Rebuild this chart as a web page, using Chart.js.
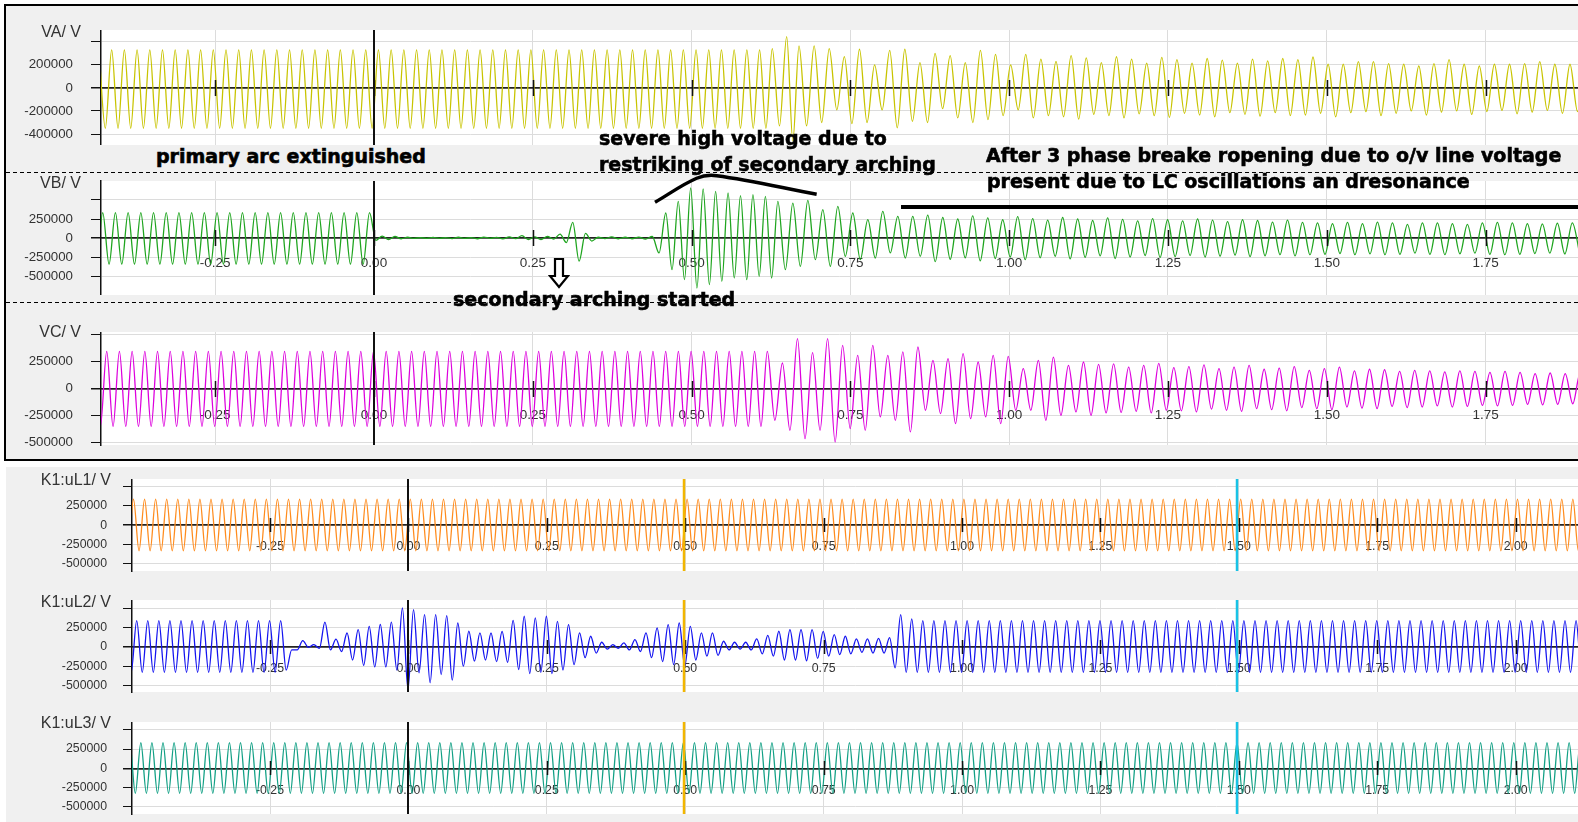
<!DOCTYPE html>
<html lang="en">
<head>
<meta charset="UTF-8">
<title>Phase voltages - secondary arc and reclosing</title>
<script src="https://cdn.jsdelivr.net/npm/chart.js"></script>
<style>
  html, body { margin: 0; padding: 0; background: #fff; }
  body { position: relative; width: 1578px; height: 822px; overflow: hidden; font-family: 'Liberation Sans', Arial, sans-serif; }
  #topBox { position: absolute; left: 4px; top: 4px; width: 1600px; height: 457px; box-sizing: border-box; border: 2px solid #000; background: #f0f0f0; }
  #botBox { position: absolute; left: 6px; top: 467px; width: 1572px; height: 355px; background: #f0f0f0; }
  canvas { position: absolute; left: 0; z-index: 1; }
  .ttl { position: absolute; left: 0; text-align: right; font-size: 16px; line-height: 16px; color: #333; white-space: nowrap; z-index: 2; }
  .dash { position: absolute; left: 6px; width: 1572px; height: 1px; z-index: 3;
          background: repeating-linear-gradient(90deg, #000 0 4px, transparent 4px 7px); }
  .note { position: absolute; font-family: 'DejaVu Sans', sans-serif; font-weight: bold; font-size: 19px; line-height: 19px; color: #000;
          -webkit-text-stroke: 0.6px #000; white-space: nowrap; z-index: 5; }
</style>
</head>
<body>
<div id="topBox"></div>
<div id="botBox"></div>
<div class="dash" style="top:172px"></div>
<div class="dash" style="top:302px"></div>

<div class="ttl" style="top:24px;width:81px">VA/ V</div>
<div class="ttl" style="top:175px;width:81px">VB/ V</div>
<div class="ttl" style="top:324px;width:81px">VC/ V</div>
<div class="ttl" style="top:472px;width:111px">K1:uL1/ V</div>
<div class="ttl" style="top:594px;width:111px">K1:uL2/ V</div>
<div class="ttl" style="top:715px;width:111px">K1:uL3/ V</div>

<div class="note" style="left:156px;top:147px">primary arc extinguished</div>
<div class="note" style="left:599px;top:129px">severe high voltage due to</div>
<div class="note" style="left:599px;top:155px">restriking of secondary arching</div>
<div class="note" style="left:986px;top:146px">After 3 phase breake ropening due to o/v line voltage</div>
<div class="note" style="left:987px;top:172px">present due to LC oscillations an dresonance</div>
<div class="note" style="left:453px;top:290px">secondary arching started</div>
<svg style="position:absolute;left:548px;top:256px;z-index:5" width="22" height="34">
  <path d="M7 3 H15 V20 H20 L11 31 L2 20 H7 Z" fill="#fff" stroke="#000" stroke-width="2.2"/>
</svg>

<script>
// ---- data (kV peaks per cycle, periods in ms, times in s) ----
const rep = (n, v) => Array(n).fill(v);

const topTicksX = [-0.25, 0, 0.25, 0.5, 0.75, 1, 1.25, 1.5, 1.75];
const botTicksX = [-0.25, 0, 0.25, 0.5, 0.75, 1, 1.25, 1.5, 1.75, 2];
const vaTicksY = [-400000, -200000, 0, 200000, 400000];
const vTicksY = [-500000, -250000, 0, 250000, 500000];

// VA
const vaT0 = -0.4330;
const vaPeriod = [[53, 20], [1, 22.7], [1, 19.4], [53, 23.8]];
const vaPeak = [...rep(53, 330), 340, 445,
  365, 365, 340, 271, 335, 200, 325, 335, 220, 300, 280, 220, 325, 290, 200,
  290, 250, 230, 280, 260, 220, 270, 250, 215, 265, 245, 215, 255, 240, 215, 250, 235, 255,
  245, 268, 205, 205, 228, 228, 210, 205, 190, 210, 245, 205, 190, 205, 205, 210, 228, 205, 205, 220];
const vaTrough = [...rep(53, 350), 330, 460,
  330, 300, 190, 310, 300, 190, 346, 290, 300, 180, 260, 300, 275, 240, 190,
  260, 240, 250, 270, 230, 240, 260, 225, 240, 255, 220, 235, 250, 215, 230, 245, 215, 240, 235, 220,
  250, 215, 205, 240, 220, 200, 235, 210, 200, 230, 205, 195, 225, 210, 195, 220, 205, 200];

// VB
const vbT0 = -0.4471;
const vbPeriod = [[40, 20], [5, 21.3], [9, 19.6], [54, 23.6]];
const vbPeak = [...rep(22, 335), 335, 25, 20, 10,
  5, 8, 4, 10, 6, 12, 8, 15, 30, 15, 20, 50, 205, 60,
  10, 15, 10, 12, 20,
  329, 482, 658, 645, 614, 592, 557, 570, 548,
  482, 460, 496, 373, 417, 329, 241, 351, 285, 285,
  300, 270, 250, 290, 265, 240, 280, 255, 235, 270, 250, 230, 265, 245, 225, 255, 240, 225, 250, 235,
  215, 240, 230, 210, 235, 206, 200, 190, 206, 190, 210, 200, 180, 200, 200, 190, 180, 200, 206, 200,
  190, 185, 195, 200];
const vbTrough = [...rep(22, 345), 30, 20, 10, 5,
  5, 4, 8, 6, 10, 5, 12, 8, 20, 20, 15, 60, 305, 40,
  8, 10, 10, 15, 197,
  417, 548, 658, 614, 570, 526, 548, 504, 526,
  417, 373, 285, 373, 241, 285, 263, 197, 263, 240,
  310, 280, 260, 300, 270, 250, 285, 260, 240, 275, 255, 235, 270, 250, 230, 255, 245, 230, 250, 240,
  225, 245, 235, 220, 235, 220, 215, 205, 220, 210, 220, 215, 200, 215, 220, 210, 200, 215, 220, 215,
  205, 200, 210, 215];
const vbArcT = [0.4424, 0.5080, 0.5395, 0.6969];
const vbArcV = [470000, 786000, 820000, 575000];
const vbBarT = [0.8297, 1.95];
const vbBarV = [408000, 408000];

// VC
const vcT0 = -0.4408;
const vcPeriod = [[53, 20], [1, 23.8], [54, 23.7]];
const vcPeak = [...rep(53, 345), 345,
  238, 463, 333, 463, 401, 309, 401, 309, 340, 386, 262, 278, 324, 247, 309, 299, 185, 262, 293, 216, 247, 225,
  230, 200, 215, 235, 195, 205, 220, 185, 200, 215, 180, 190, 205, 170, 185, 200,
  165, 180, 175, 160, 170, 165, 155, 165, 160, 150, 160, 150, 140, 145, 140, 150];
const vcTrough = [...rep(53, 350), 293,
  386, 463, 386, 494, 370, 386, 262, 293, 401, 200, 231, 324, 278, 262, 324, 200, 200, 293, 247, 216, 247, 225,
  220, 210, 225, 200, 205, 215, 190, 200, 210, 185, 195, 205, 175, 185, 195, 170,
  180, 185, 165, 175, 170, 160, 170, 165, 155, 160, 155, 145, 150, 145, 140, 150];

// K1:uL1
const u1T0 = -0.5166;
const u1Period = [[133, 20]];
const u1Peak = rep(133, 338);
const u1Trough = rep(133, 332);

// K1:uL2
const u2T0 = -0.5108;
const u2Period = [[133, 20]];
const u2Peak = [...rep(15, 340),
  -40, 80, 30, 320, 100, 180, 225, 265, 290, 320,
  505, 483, 418, 418, 405, 310, 203, 181, 180, 200,
  345, 397, 375, 397, 332, 289, 181, 138, 60, 30,
  52, 95, 181, 246, 289, 310, 267, 181, 181, 73,
  60, 60, 103, 150, 203, 224, 224, 224, 200, 160,
  138, 103, 103, 110, 120, 418, 362,
  ...rep(61, 340)];
const u2Trough = [...rep(14, 330), 300,
  40, 5, 20, 40, 60, 170, 240, 260, 260, 300,
  555, 336, 465, 358, 431, 250, 185, 170, 190, 200,
  293, 345, 330, 345, 300, 230, 140, 80, 30, 20,
  40, 60, 140, 190, 230, 250, 170, 120, 110, 40,
  30, 40, 90, 120, 170, 170, 180, 150, 120, 100,
  90, 70, 80, 80, 271, 330, 330,
  ...rep(61, 330)];

// K1:uL3
const u3T0 = -0.5233;
const u3Period = [[133, 20]];
const u3Peak = rep(133, 332);
const u3Trough = rep(133, 325);

// ---- build ----
function wave(t0, periods, peak, trough) {
  const pts = [];
  let t = t0, i = 0;
  periods.forEach(([n, ms]) => {
    for (let j = 0; j < n; j++, i++) {
      const p = ms / 1000;
      pts.push({ x: t, y: peak[i] * 1000 });
      pts.push({ x: t + p / 2, y: -trough[i] * 1000 });
      t += p;
    }
  });
  return pts;
}
const pairs = (ts, vs) => ts.map((t, i) => ({ x: t, y: vs[i] }));

Chart.defaults.font.family = "'Liberation Sans', Arial, sans-serif";

const marks = {
  id: 'marks',
  beforeDraw(chart) {
    const { ctx, chartArea: a } = chart;
    ctx.save();
    ctx.fillStyle = '#fff';
    ctx.fillRect(a.left, a.top, a.right - a.left, a.bottom - a.top);
    ctx.restore();
  },
  afterDatasetsDraw(chart, args, opts) {
    const { ctx, chartArea: a, scales: { x, y } } = chart;
    const y0 = Math.round(y.getPixelForValue(0));
    ctx.save();
    ctx.strokeStyle = '#111';
    ctx.lineWidth = 1.5;
    x.ticks.forEach(tk => {
      const px = Math.round(x.getPixelForValue(tk.value)) + 0.5;
      ctx.beginPath(); ctx.moveTo(px, y0 - opts.tick); ctx.lineTo(px, y0 + opts.tick); ctx.stroke();
    });
    opts.cursors.forEach(c => {
      const px = Math.round(x.getPixelForValue(c.t));
      ctx.strokeStyle = c.color; ctx.lineWidth = c.w;
      ctx.beginPath(); ctx.moveTo(px, a.top); ctx.lineTo(px, a.bottom); ctx.stroke();
    });
    ctx.restore();
  }
};

function makeChart(p) {
  const cv = document.createElement('canvas');
  const padT = p.padT || 0, padB = p.padB || 0;
  const h = p.bottom - p.top + padT + padB;
  cv.width = 1578; cv.height = h;
  cv.style.top = (p.top - padT) + 'px';
  cv.style.width = '1578px'; cv.style.height = h + 'px';
  document.body.appendChild(cv);
  const hidden = p.yTicks[p.yTicks.length - 1];
  const isZero = c => c.tick && c.tick.value === 0;
  return new Chart(cv, {
    type: 'line',
    data: {
      datasets: [{
        data: p.data, borderColor: p.color, borderWidth: 1.3, pointRadius: 0,
        fill: false, cubicInterpolationMode: 'monotone'
      }].concat(p.extra || [])
    },
    options: {
      responsive: false, animation: false, devicePixelRatio: 1, events: [],
      layout: { padding: { top: padT, bottom: padB, left: 0, right: 0 } },
      plugins: { legend: { display: false }, tooltip: { enabled: false }, marks: { cursors: p.cursors, tick: p.tick } },
      scales: {
        x: {
          type: 'linear', min: p.xMin, max: p.xMax, position: { y: 0 },
          afterBuildTicks: s => { s.ticks = p.xTicks.map(v => ({ value: v })); },
          grid: { color: '#dcdcdc', drawTicks: false },
          border: { color: '#222', width: 1.5 },
          ticks: { display: p.xLabels, padding: p.xPad, color: '#333', font: { size: p.xFont },
                   autoSkip: false, maxRotation: 0, callback: v => v.toFixed(2) }
        },
        y: {
          type: 'linear', min: p.yMin, max: p.yMax,
          afterBuildTicks: s => { s.ticks = p.yTicks.map(v => ({ value: v })); },
          afterFit: s => { s.width = p.left; s.paddingTop = 0; s.paddingBottom = 0; },
          grid: { color: c => isZero(c) ? '#222' : '#dcdcdc', lineWidth: c => isZero(c) ? 1.5 : 1,
                  tickColor: '#111', tickLength: p.tickLen },
          border: { color: '#111', width: 1.5 },
          ticks: { padding: p.yPad, color: '#333', font: { size: p.yFont }, autoSkip: false,
                   callback: v => v === hidden ? '' : String(v) }
        }
      }
    },
    plugins: [marks]
  });
}

const topX = { xMin: -0.4298, xMax: 1.8955, xTicks: topTicksX, left: 101, tickLen: 10, yPad: 18, yFont: 13.3, xFont: 13.5, tick: 8,
               cursors: [{ t: 0, color: '#111', w: 2 }] };
const botX = { xMin: -0.4993, xMax: 2.1127, xTicks: botTicksX, left: 132, tickLen: 9, yPad: 16, yFont: 12.3, xFont: 12.3, tick: 7,
               xLabels: true, xPad: 14.5, yTicks: vTicksY,
               cursors: [{ t: 0, color: '#111', w: 2 }, { t: 0.498, color: '#f2b600', w: 2.5 }, { t: 1.497, color: '#19c3e6', w: 2.5 }] };

makeChart(Object.assign({}, topX, {
  top: 30, bottom: 145, yMin: -495000, yMax: 502000, yTicks: vaTicksY, xLabels: false, xPad: 17,
  color: '#c8c400', data: wave(vaT0, vaPeriod, vaPeak, vaTrough)
}));
makeChart(Object.assign({}, topX, {
  top: 181, bottom: 295, padT: 9, yMin: -750000, yMax: 750000, yTicks: vTicksY, xLabels: true, xPad: 17,
  color: '#1fa51f', data: wave(vbT0, vbPeriod, vbPeak, vbTrough),
  extra: [
    { data: pairs(vbArcT, vbArcV), borderColor: '#000', borderWidth: 3.5, pointRadius: 0, tension: 0.35,
      cubicInterpolationMode: 'default', capBezierPoints: false, clip: false, order: -1 },
    { data: pairs(vbBarT, vbBarV), borderColor: '#000', borderWidth: 4, pointRadius: 0, order: -1 }
  ]
}));
makeChart(Object.assign({}, topX, {
  top: 332, bottom: 445, padB: 8, yMin: -522000, yMax: 525000, yTicks: vTicksY, xLabels: true, xPad: 19,
  color: '#dd00dd', data: wave(vcT0, vcPeriod, vcPeak, vcTrough)
}));
makeChart(Object.assign({}, botX, {
  top: 479, bottom: 571, padB: 4, yMin: -595000, yMax: 600000,
  color: '#ff8c1e', data: wave(u1T0, u1Period, u1Peak, u1Trough)
}));
makeChart(Object.assign({}, botX, {
  top: 600, bottom: 692, padB: 4, yMin: -585000, yMax: 608000,
  color: '#1414f0', data: wave(u2T0, u2Period, u2Peak, u2Trough)
}));
makeChart(Object.assign({}, botX, {
  top: 722, bottom: 814, padB: 4, yMin: -592000, yMax: 600000,
  color: '#12a085', data: wave(u3T0, u3Period, u3Peak, u3Trough)
}));
</script>
</body>
</html>
